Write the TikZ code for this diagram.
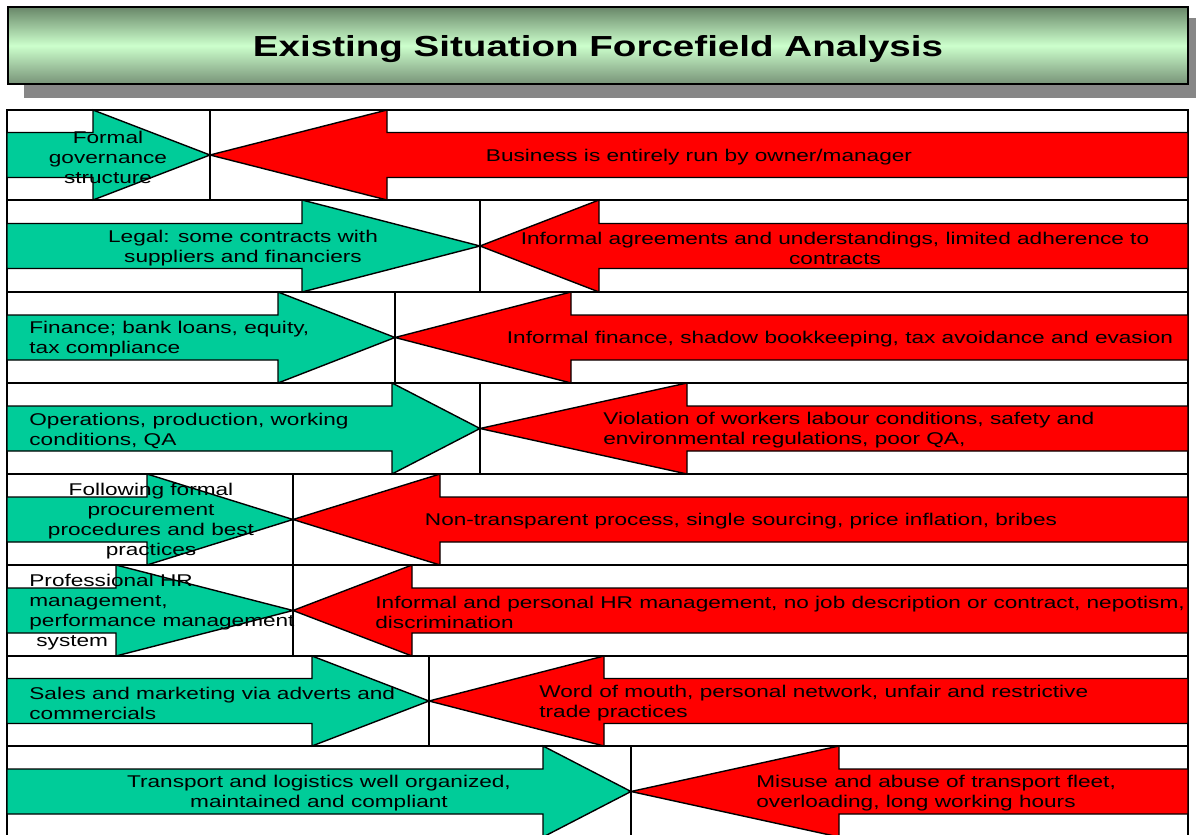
\documentclass[tikz,border=0pt]{standalone}
\usepackage{fontspec}
\setmainfont[FakeStretch=1.33]{Liberation Sans}
\definecolor{forcegreen}{RGB}{0,204,153}
\definecolor{forcered}{RGB}{255,0,0}
\definecolor{titledark}{RGB}{105,135,105}
\definecolor{titlelight}{RGB}{204,255,204}
\definecolor{shadowgray}{RGB}{135,135,135}

\begin{document}
\begin{tikzpicture}[x=0.5pt,y=-0.5pt]
\tikzstyle{cell}=[draw=black, line width=0.9pt, fill=white]
\tikzstyle{pro}=[draw=black, line width=0.7pt, fill=forcegreen]
\tikzstyle{contra}=[draw=black, line width=0.7pt, fill=forcered]
\tikzstyle{txt}=[inner sep=0pt, yshift=-1pt, font=\fontsize{8.5}{10}\selectfont, text=black]

\useasboundingbox (0,0) rectangle (1196,835);

\fill[shadowgray] (24,18) rectangle (1196,98);
\shadedraw[top color=titledark, bottom color=titledark!90!white, middle color=titlelight, draw=black, line width=0.9pt] (8,7) rectangle (1188,84);
\node[font=\fontsize{14.5}{17}\selectfont\bfseries] (title) at (598,49) {Existing Situation Forcefield Analysis};

\draw[cell] (7,110) rectangle (210,200);
\draw[cell] (210,110) rectangle (1188,200);
\draw[cell] (7,200) rectangle (480,292);
\draw[cell] (480,200) rectangle (1188,292);
\draw[cell] (7,292) rectangle (395,383);
\draw[cell] (395,292) rectangle (1188,383);
\draw[cell] (7,383) rectangle (480,474);
\draw[cell] (480,383) rectangle (1188,474);
\draw[cell] (7,474) rectangle (293,565);
\draw[cell] (293,474) rectangle (1188,565);
\draw[cell] (7,565) rectangle (293,656);
\draw[cell] (293,565) rectangle (1188,656);
\draw[cell] (7,656) rectangle (429,746);
\draw[cell] (429,656) rectangle (1188,746);
\draw[cell] (7,746) rectangle (631,840);
\draw[cell] (631,746) rectangle (1188,840);

\draw[pro] (7,132.5) -- (93,132.5) -- (93,110) -- (210,155) -- (93,200) -- (93,177.5) -- (7,177.5) -- cycle;
\draw[contra] (1188,132.5) -- (387,132.5) -- (387,110) -- (210,155) -- (387,200) -- (387,177.5) -- (1188,177.5) -- cycle;
\draw[pro] (7,223.5) -- (302,223.5) -- (302,200) -- (480,246) -- (302,292) -- (302,268.5) -- (7,268.5) -- cycle;
\draw[contra] (1188,223.5) -- (599,223.5) -- (599,200) -- (480,246) -- (599,292) -- (599,268.5) -- (1188,268.5) -- cycle;
\draw[pro] (7,315) -- (278,315) -- (278,292) -- (395,337.5) -- (278,383) -- (278,360) -- (7,360) -- cycle;
\draw[contra] (1188,315) -- (571,315) -- (571,292) -- (395,337.5) -- (571,383) -- (571,360) -- (1188,360) -- cycle;
\draw[pro] (7,406) -- (392,406) -- (392,383) -- (480,428.5) -- (392,474) -- (392,451) -- (7,451) -- cycle;
\draw[contra] (1188,406) -- (687,406) -- (687,383) -- (480,428.5) -- (687,474) -- (687,451) -- (1188,451) -- cycle;
\draw[pro] (7,497) -- (147,497) -- (147,474) -- (293,519.5) -- (147,565) -- (147,542) -- (7,542) -- cycle;
\draw[contra] (1188,497) -- (440,497) -- (440,474) -- (293,519.5) -- (440,565) -- (440,542) -- (1188,542) -- cycle;
\draw[pro] (7,588) -- (116,588) -- (116,565) -- (293,610.5) -- (116,656) -- (116,633) -- (7,633) -- cycle;
\draw[contra] (1188,588) -- (412,588) -- (412,565) -- (293,610.5) -- (412,656) -- (412,633) -- (1188,633) -- cycle;
\draw[pro] (7,678.5) -- (312,678.5) -- (312,656) -- (429,701) -- (312,746) -- (312,723.5) -- (7,723.5) -- cycle;
\draw[contra] (1188,678.5) -- (604,678.5) -- (604,656) -- (429,701) -- (604,746) -- (604,723.5) -- (1188,723.5) -- cycle;
\draw[pro] (7,769) -- (543,769) -- (543,746) -- (631,791.5) -- (543,837) -- (543,814) -- (7,814) -- cycle;
\draw[contra] (1188,769) -- (839,769) -- (839,746) -- (631,791.5) -- (839,837) -- (839,814) -- (1188,814) -- cycle;

\node[txt, align=center] (g1) at (108,155) {Formal\\governance\\structure};
\node[txt, align=center] (r1) at (699,155) {Business is entirely run by owner/manager};
\node[txt, align=center] (g2) at (243,246) {Legal: some contracts with\\suppliers and financiers};
\node[txt, align=center] (r2) at (835,246) {Informal agreements and understandings, limited adherence to\\contracts};
\node[txt, align=left, anchor=west] (g3) at (29,337.5) {Finance; bank loans, equity,\\tax compliance};
\node[txt, align=center] (r3) at (840,337.5) {Informal finance, shadow bookkeeping, tax avoidance and evasion};
\node[txt, align=left, anchor=west] (g4) at (29,428.5) {Operations, production, working\\conditions, QA};
\node[txt, align=left, anchor=west] (r4) at (603,428.5) {Violation of workers labour conditions, safety and\\environmental regulations, poor QA,};
\node[txt, align=center] (g5) at (151,519.5) {Following formal\\procurement\\procedures and best\\practices};
\node[txt, align=center] (r5) at (741,519.5) {Non-transparent process, single sourcing, price inflation, bribes};
\node[txt, align=left, anchor=west] (g6) at (29,610.5) {Professional HR\\management,\\performance management\\\hspace*{3.5pt}system};
\node[txt, align=left, anchor=west] (r6) at (375,610.5) {Informal and personal HR management, no job description or contract, nepotism,\\discrimination};
\node[txt, align=left, anchor=west] (g7) at (29,701) {Sales and marketing via adverts and\\commercials};
\node[txt, align=left, anchor=west] (r7) at (539,701) {Word of mouth, personal network, unfair and restrictive\\trade practices};
\node[txt, align=center] (g8) at (319,791.5) {Transport and logistics well organized,\\maintained and compliant};
\node[txt, align=left, anchor=west] (r8) at (756,791.5) {Misuse and abuse of transport fleet,\\overloading, long working hours};
\end{tikzpicture}
\end{document}
